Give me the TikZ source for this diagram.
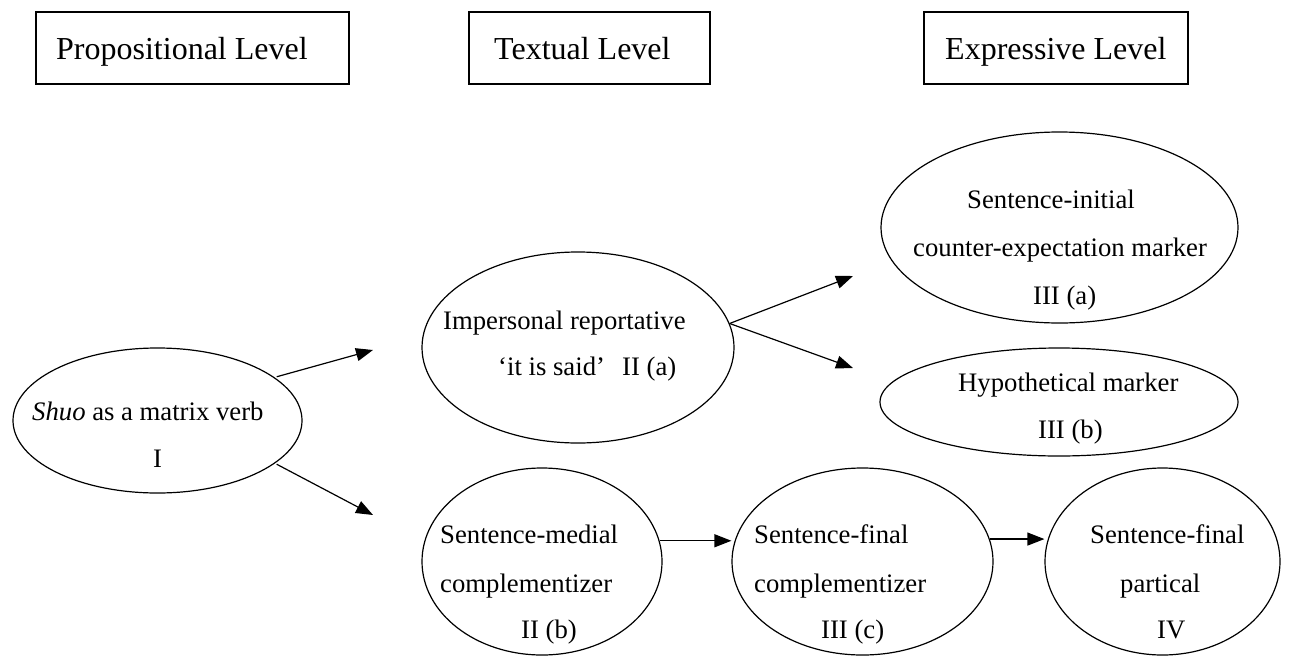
\documentclass[tikz,border=0pt]{standalone}
\usepackage{fontspec}
\setmainfont{Liberation Serif}
\usetikzlibrary{shapes.geometric,arrows.meta,calc}

\begin{document}
\begin{tikzpicture}[x=1pt,y=-1pt,
  levelbox/.style={draw, line width=1.2pt, rectangle, inner sep=0pt},
  levtext/.style={anchor=base west, inner sep=0pt, font=\fontsize{32}{38}\selectfont},
  ell/.style={draw, ellipse, line width=1.2pt, inner sep=0pt},
  txt/.style={anchor=base west, inner sep=0pt, font=\fontsize{26.7}{32}\selectfont},
  arr/.style={line width=1.2pt, -{Triangle[length=17pt,width=13pt]}}]

\useasboundingbox (0,0) rectangle (1293,656);

% level headings
\node[levelbox, minimum width=313pt, minimum height=72pt] (boxP) at (192.5,48) {};
\node[levelbox, minimum width=241pt, minimum height=72pt] (boxT) at (589.5,48) {};
\node[levelbox, minimum width=264pt, minimum height=72pt] (boxE) at (1056,48) {};
\node[levtext] (tP) at (56,59) {Propositional Level};
\node[levtext] (tT) at (494,59) {Textual Level};
\node[levtext] (tE) at (945,59) {Expressive Level};

% stages
\node[ell, minimum width=289pt, minimum height=145pt] (I)    at (157.5,420.5) {};
\node[ell, minimum width=312pt, minimum height=191pt] (IIa)  at (578,347.5) {};
\node[ell, minimum width=357pt, minimum height=191pt] (IIIa) at (1059.5,227.5) {};
\node[ell, minimum width=358pt, minimum height=108pt] (IIIb) at (1059,402) {};
\node[ell, minimum width=240pt, minimum height=187pt] (IIb)  at (542,561.5) {};
\node[ell, minimum width=261pt, minimum height=187pt] (IIIc) at (862.5,561.5) {};
\node[ell, minimum width=235pt, minimum height=187pt] (IV)   at (1162.5,561.5) {};

% stage labels
\node[txt] (I1) at (32,420) {\textit{Shuo} as a matrix verb};
\node[txt] (I2) at (153,467) {I};

\node[txt] (IIa1) at (443,329) {Impersonal reportative};
\node[txt] (IIa2) at (498,375) {‘it is said’};
\node[txt] (IIa3) at (622,375) {II (a)};

\node[txt] (IIIa1) at (967,208) {Sentence-initial};
\node[txt] (IIIa2) at (913,256) {counter-expectation marker};
\node[txt] (IIIa3) at (1033,304) {III (a)};

\node[txt] (IIIb1) at (958,391) {Hypothetical marker};
\node[txt] (IIIb2) at (1038,438) {III (b)};

\node[txt] (IIb1) at (440,543) {Sentence-medial};
\node[txt] (IIb2) at (440,592) {complementizer};
\node[txt] (IIb3) at (521,638) {II (b)};

\node[txt] (IIIc1) at (754,543) {Sentence-final};
\node[txt] (IIIc2) at (754,592) {complementizer};
\node[txt] (IIIc3) at (821,638) {III (c)};

\node[txt] (IV1) at (1090,543) {Sentence-final};
\node[txt] (IV2) at (1120,592) {partical};
\node[txt] (IV3) at (1157,638) {IV};

% free arrow ends
\coordinate (toIIa)  at (373,350);
\coordinate (toIIb)  at (373,515);
\coordinate (toIIIa) at (853,276);
\coordinate (toIIIb) at (853,368);

% connectors
\draw[arr] ([xshift=6pt,yshift=-2pt]I.22) -- (toIIa);
\draw[arr] ([xshift=6pt,yshift=2pt]I.-22) -- (toIIb);
\draw[arr] (IIa.9) -- (toIIIa);
\draw[arr] (IIa.9) -- (toIIIb);
\draw[arr] (IIb.10) -- (IIb.10 -| IIIc.west);
\draw[arr] (IIIc.10) -- (IIIc.10 -| IV.west);

\end{tikzpicture}
\end{document}
